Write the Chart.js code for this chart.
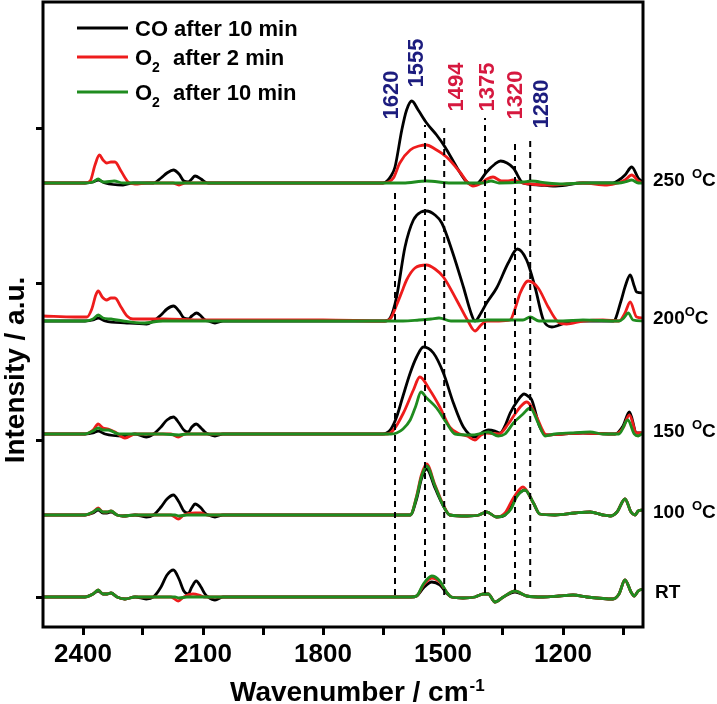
<!DOCTYPE html>
<html>
<head>
<meta charset="utf-8">
<script src="https://cdn.jsdelivr.net/npm/chart.js@4.4.1/dist/chart.umd.min.js"></script>
<style>
  html, body { margin: 0; padding: 0; background: #fff; }
</style>
</head>
<body>
<canvas id="chart" width="717" height="704"></canvas>
<script>
// temperature groups, bottom to top, with their vertical offsets (a.u.)
const temps = ['RT', '100 ', '150 ', '200', '250 '];
const offsets = [0, 82, 163, 276, 414];

const seriesNames = ['CO after 10 min', 'O2  after 2 min', 'O2  after 10 min'];
const seriesColors = ['#000000', '#ee1c1c', '#1f8c1f'];

// x axis ticks (cm-1)
const xMajor = [2400, 2100, 1800, 1500, 1200];
const xMinor = [2250, 1950, 1650, 1350, 1050];
const yTicks = [0, 157, 314, 469];

// band markers: label, drawn position, dashed extent (low, high)
const bandText = ['1620', '1555', '1494', '1375', '1320', '1280'];
const bandPos = [1620, 1545, 1497, 1395, 1320, 1282];
const bandLow = [2, 19, 2, 4, 7, 10];
const bandHigh = [404, 472, 469, 479, 457, 457];
const bandColor = ['#1c1c7e', '#1c1c7e', '#d6183f', '#d6183f', '#d6183f', '#1c1c7e'];

// spectra: [wavenumber, intensity above baseline]
const coRT = [[2500,0],[2395,0],[2375,3],[2362,6],[2350,3],[2340,3],[2330,4],[2315,0],[2295,-2],[2270,0],[2242,-2],[2224,0],[2205,10],[2190,22],[2174,27],[2160,18],[2148,6],[2137,3],[2128,10],[2117,16],[2105,10],[2095,3],[2087,0],[2070,-3],[2050,0],
  [1580,0],[1566,1],[1549,9],[1528,15],[1508,12],[1491,4],[1479,0],[1450,-1],[1420,0],[1399,3],[1387,3],[1370,-5],[1349,0],[1320,5],[1291,1],[1250,0],[1210,1],[1175,2],[1140,0],[1075,-2],[1060,3],[1045,17],[1030,5],[1022,1],[1012,6],[1000,8]];
const o2aRT = [[2500,0],[2395,0],[2375,3],[2362,7],[2350,3],[2340,3],[2330,4],[2315,0],[2295,-2],[2270,0],[2180,0],[2162,-4],[2148,0],[2125,3],[2110,2],[2095,0],
  [1580,0],[1566,1],[1549,12],[1528,19],[1508,15],[1491,5],[1479,0],[1450,-1],[1420,0],[1399,3],[1387,3],[1370,-5],[1349,0],[1320,6],[1291,1],[1250,0],[1210,1],[1175,2],[1140,0],[1075,-2],[1060,3],[1045,17],[1030,5],[1022,1],[1012,6],[1000,8]];
const o2bRT = [[2500,0],[2395,0],[2375,3],[2362,7],[2350,3],[2340,3],[2330,4],[2315,0],[2295,-2],[2270,0],[2170,0],[2160,-1],[2140,0],
  [1580,0],[1566,1],[1549,13],[1528,21],[1508,16],[1491,5],[1479,0],[1450,-1],[1420,0],[1399,3],[1387,3],[1370,-5],[1349,0],[1320,6],[1291,1],[1250,0],[1210,1],[1175,2],[1140,0],[1075,-2],[1060,3],[1045,17],[1030,5],[1022,1],[1012,6],[1000,8]];

const co100 = [[2500,0],[2395,0],[2375,2],[2362,5],[2350,2],[2340,2],[2330,3],[2315,0],[2300,-1],[2270,0],[2242,-2],[2224,0],[2205,8],[2190,16],[2174,20],[2160,13],[2148,4],[2137,2],[2128,7],[2120,11],[2105,7],[2095,2],[2087,0],[2070,-2],[2050,0],
  [1600,0],[1582,0],[1566,16],[1554,36],[1541,46],[1520,27],[1499,9],[1483,0],[1440,-1],[1410,0],[1391,3],[1366,-2],[1345,0],[1337,5],[1316,19],[1295,25],[1274,12],[1258,1],[1220,0],[1170,2],[1132,3],[1100,0],[1082,-1],[1065,3],[1045,16],[1030,3],[1020,0],[1012,4],[1000,5]];
const o2a100 = [[2500,0],[2395,0],[2375,3],[2362,7],[2350,3],[2340,3],[2330,4],[2315,0],[2300,-1],[2270,0],[2180,0],[2162,-4],[2148,0],[2120,2],[2105,2],[2090,0],
  [1600,0],[1582,0],[1566,19],[1554,40],[1541,51],[1520,30],[1499,10],[1483,0],[1440,-1],[1410,0],[1391,3],[1366,-2],[1345,2],[1324,17],[1300,28],[1274,12],[1258,1],[1220,0],[1170,2],[1132,3],[1100,0],[1082,-1],[1065,3],[1045,16],[1030,3],[1020,0],[1012,4],[1000,5]];
const o2b100 = [[2500,0],[2395,0],[2375,3],[2362,6],[2350,3],[2340,3],[2330,4],[2315,0],[2300,-1],[2270,0],[2170,0],[2160,-1],[2140,0],
  [1600,0],[1582,0],[1566,18],[1554,38],[1541,49],[1520,29],[1499,9],[1483,0],[1440,-1],[1410,0],[1391,3],[1366,-2],[1345,0],[1330,6],[1316,18],[1295,25],[1274,12],[1258,1],[1220,0],[1170,2],[1132,3],[1100,0],[1082,-1],[1065,3],[1045,16],[1030,3],[1020,0],[1012,4],[1000,5]];

const co150 = [[2500,0],[2395,0],[2375,1],[2362,3],[2345,0],[2300,-2],[2270,0],[2242,-3],[2224,0],[2205,7],[2190,14],[2174,17],[2160,11],[2148,4],[2137,2],[2128,7],[2117,10],[2105,6],[2095,2],[2087,0],[2070,-2],[2050,0],
  [1650,0],[1641,1],[1630,5],[1616,17],[1600,38],[1582,61],[1566,77],[1549,87],[1524,81],[1499,61],[1474,31],[1449,7],[1420,-3],[1400,2],[1387,4],[1370,3],[1357,1],[1345,8],[1332,21],[1314,33],[1297,40],[1285,37],[1278,34],[1258,7],[1241,-1],[1200,0],[1150,1],[1070,0],[1050,8],[1034,22],[1016,1],[1000,1]];
const o2a150 = [[2500,0],[2395,0],[2375,4],[2362,10],[2350,6],[2337,5],[2320,2],[2295,-4],[2270,0],[2180,0],[2162,-3],[2145,0],
  [1640,0],[1624,4],[1599,21],[1574,44],[1558,57],[1533,44],[1508,27],[1483,7],[1458,0],[1440,-2],[1420,-6],[1405,-1],[1391,1],[1360,0],[1337,10],[1320,20],[1307,27],[1291,32],[1266,17],[1250,3],[1241,-1],[1200,0],[1150,1],[1070,0],[1050,6],[1034,19],[1016,1],[1000,1]];
const o2b150 = [[2500,0],[2395,0],[2375,3],[2362,6],[2350,4],[2337,4],[2310,0],[2200,0],[2160,-1],[2140,0],
  [1630,0],[1616,1],[1600,5],[1582,14],[1568,28],[1555,42],[1541,36],[1516,26],[1491,11],[1470,0],[1430,-1],[1400,1],[1387,2],[1362,-2],[1345,0],[1324,11],[1300,20],[1282,26],[1262,11],[1245,-2],[1220,0],[1180,1],[1132,2],[1100,0],[1060,0],[1038,14],[1022,0],[1012,-2],[1000,1]];

const co200 = [[2500,0],[2395,0],[2375,1],[2362,3],[2345,0],[2290,-2],[2241,-3],[2224,0],[2205,6],[2190,12],[2174,15],[2160,10],[2148,3],[2137,2],[2128,5],[2116,8],[2105,5],[2095,1],[2087,0],[2070,-2],[2050,0],
  [1645,0],[1632,3],[1616,24],[1595,74],[1574,101],[1555,109],[1541,110],[1520,106],[1503,98],[1478,71],[1449,34],[1430,8],[1420,0],[1405,8],[1391,18],[1366,33],[1337,58],[1314,72],[1291,61],[1270,34],[1249,1],[1228,-6],[1208,-4],[1175,0],[1074,0],[1055,20],[1045,34],[1032,46],[1022,35],[1016,29],[1000,28]];
const o2a200 = [[2500,5],[2420,4],[2390,4],[2378,12],[2368,26],[2362,30],[2352,24],[2341,21],[2330,23],[2320,23],[2305,14],[2290,5],[2275,2],[2200,2],[2100,1],[1800,1],
  [1645,0],[1630,3],[1616,16],[1600,32],[1591,41],[1570,53],[1541,56],[1520,52],[1499,44],[1466,21],[1439,1],[1420,-10],[1405,-4],[1391,0],[1360,0],[1332,1],[1320,12],[1307,28],[1287,40],[1262,33],[1237,14],[1212,-1],[1191,-3],[1150,0],[1100,1],[1060,0],[1045,8],[1032,19],[1016,4],[1000,3]];
const o2b200 = [[2500,0],[2395,0],[2375,2],[2362,6],[2350,3],[2330,2],[2300,0],[2250,-2],[2200,0],
  [1600,0],[1560,1],[1530,2],[1510,3],[1480,0],[1420,0],[1390,1],[1300,1],[1282,4],[1260,0],[1200,0],[1150,1],[1060,0],[1048,3],[1037,8],[1025,1],[1000,0]];

const co250 = [[2500,0],[2395,0],[2375,1],[2362,3],[2345,0],[2300,-2],[2275,0],[2224,0],[2205,5],[2190,10],[2174,13],[2160,9],[2148,2],[2137,1],[2128,4],[2120,7],[2105,4],[2095,1],[2087,0],
  [1650,0],[1640,2],[1630,7],[1620,16],[1603,53],[1591,73],[1578,82],[1562,73],[1541,60],[1516,48],[1495,36],[1466,16],[1445,3],[1437,0],[1425,-2],[1412,0],[1391,11],[1370,19],[1356,22],[1340,20],[1324,15],[1300,0],[1260,-2],[1225,-3],[1191,-2],[1158,0],[1075,0],[1060,3],[1045,8],[1028,16],[1012,5],[1000,1]];
const o2a250 = [[2500,0],[2395,0],[2382,2],[2370,18],[2359,28],[2350,23],[2341,20],[2330,21],[2320,21],[2305,12],[2287,1],[2270,-1],[2240,0],[2175,0],[2160,-2],[2145,0],
  [1650,0],[1637,1],[1624,5],[1608,20],[1582,33],[1560,37],[1541,38],[1520,34],[1491,26],[1458,11],[1437,0],[1425,-3],[1404,0],[1390,4],[1375,6],[1354,2],[1340,2],[1325,3],[1300,0],[1225,-2],[1190,-1],[1150,0],[1090,-2],[1062,0],[1045,3],[1028,8],[1012,2],[1000,0]];
const o2b250 = [[2500,0],[2395,0],[2375,1],[2362,4],[2350,1],[2345,1],[2322,2],[2300,0],[2200,0],
  [1600,0],[1541,2],[1480,0],[1400,0],[1380,2],[1360,0],[1300,1],[1280,2],[1240,0],[1200,-1],[1150,0],[1060,0],[1045,1],[1028,3],[1012,0],[1000,0]];

const spectra = [
  [coRT, o2aRT, o2bRT],
  [co100, o2a100, o2b100],
  [co150, o2a150, o2b150],
  [co200, o2a200, o2b200],
  [co250, o2a250, o2b250]
];

const FONT = '"Liberation Sans", Arial, sans-serif';

// build datasets
const datasets = [];
spectra.forEach((group, i) => {
  group.forEach((pts, s) => {
    datasets.push({
      label: seriesNames[s] + ' ' + temps[i],
      data: pts.map(p => ({ x: p[0], y: offsets[i] + p[1] })),
      borderColor: seriesColors[s],
      borderWidth: 2.8,
      pointRadius: 0,
      cubicInterpolationMode: 'monotone',
      order: 3 - s
    });
  });
});
bandPos.forEach((p, i) => {
  datasets.push({
    label: bandText[i],
    data: [{ x: p, y: bandLow[i] }, { x: p, y: bandHigh[i] }],
    borderColor: '#000',
    borderWidth: 2,
    borderDash: [6, 5],
    pointRadius: 0,
    order: 0
  });
});

// text, frame, legend
const annotate = {
  id: 'annotate',
  afterDraw(chart) {
    const { ctx, chartArea: a, scales: { x, y } } = chart;
    ctx.save();
    ctx.strokeStyle = '#000';
    ctx.lineWidth = 3;
    ctx.strokeRect(a.left, a.top, a.right - a.left, a.bottom - a.top);

    // band labels
    ctx.font = 'bold 22px ' + FONT;
    ctx.textAlign = 'center';
    ctx.textBaseline = 'middle';
    const labelX = [1628, 1565, 1465, 1388, 1318, 1253];
    const labelY = [502, 534, 510, 510, 502, 493];
    bandText.forEach((t, i) => {
      ctx.save();
      ctx.translate(x.getPixelForValue(labelX[i]), y.getPixelForValue(labelY[i]));
      ctx.rotate(-Math.PI / 2);
      ctx.fillStyle = bandColor[i];
      ctx.fillText(t, 0, 0);
      ctx.restore();
    });

    // temperature labels
    ctx.fillStyle = '#000';
    ctx.textAlign = 'left';
    temps.forEach((t, i) => {
      const py = y.getPixelForValue(offsets[i]) - (i === 0 ? 4 : 2);
      let px = a.right + (i === 0 ? 12 : 10);
      ctx.font = 'bold 19px ' + FONT;
      ctx.fillText(t, px, py);
      if (t === 'RT') return;
      px += ctx.measureText(t).width + (t.endsWith(' ') ? 2 : 0);
      ctx.font = 'bold 13px ' + FONT;
      ctx.fillText('O', px, py - 7);
      px += ctx.measureText('O').width;
      ctx.font = 'bold 19px ' + FONT;
      ctx.fillText('C', px, py);
    });

    // legend
    ctx.textBaseline = 'alphabetic';
    const rows = [36, 65, 100];
    rows.forEach((by, s) => {
      ctx.strokeStyle = seriesColors[s];
      ctx.lineWidth = 3;
      ctx.beginPath();
      ctx.moveTo(77, by - 8);
      ctx.lineTo(128, by - 8);
      ctx.stroke();
      ctx.fillStyle = '#000';
      ctx.font = 'bold 22px ' + FONT;
      const name = seriesNames[s];
      if (name.startsWith('O2')) {
        ctx.fillText('O', 135, by);
        ctx.font = 'bold 14px ' + FONT;
        ctx.fillText('2', 152, by + 7);
        ctx.font = 'bold 22px ' + FONT;
        ctx.fillText(name.slice(2).trim(), 173, by);
      } else {
        ctx.fillText(name, 135, by);
      }
    });

    // axis titles
    ctx.font = 'bold 28px ' + FONT;
    ctx.fillText('Wavenumber / cm', 230, 701);
    const w = ctx.measureText('Wavenumber / cm').width;
    ctx.font = 'bold 17px ' + FONT;
    ctx.fillText('-1', 230 + w + 1, 691);

    ctx.save();
    ctx.translate(24, 370);
    ctx.rotate(-Math.PI / 2);
    ctx.font = 'bold 28px ' + FONT;
    ctx.textAlign = 'center';
    ctx.fillText('Intensity / a.u.', 0, 0);
    ctx.restore();

    ctx.restore();
  }
};

new Chart(document.getElementById('chart').getContext('2d'), {
  type: 'line',
  data: { datasets: datasets },
  options: {
    responsive: false,
    animation: false,
    devicePixelRatio: 1,
    layout: { padding: { top: 2, right: 74, left: 0, bottom: 0 } },
    plugins: { legend: { display: false }, tooltip: { enabled: false } },
    scales: {
      x: {
        type: 'linear',
        reverse: true,
        min: 1000,
        max: 2500,
        afterBuildTicks: s => { s.ticks = xMajor.concat(xMinor).sort((p, q) => p - q).map(v => ({ value: v })); },
        afterFit: s => { s.height = 77; },
        border: { display: false },
        grid: { drawOnChartArea: false, drawTicks: true, tickLength: 8, tickWidth: 3, tickColor: '#000' },
        ticks: {
          autoSkip: false,
          maxRotation: 0,
          padding: 4,
          color: '#000',
          font: { family: FONT, size: 26, weight: 'bold' },
          callback: v => xMajor.includes(v) ? String(v) : ''
        }
      },
      y: {
        type: 'linear',
        min: -30,
        max: 595,
        afterBuildTicks: s => { s.ticks = yTicks.map(v => ({ value: v })); },
        afterFit: s => { s.width = 43; },
        border: { display: false },
        grid: { drawOnChartArea: false, drawTicks: true, tickLength: 7, tickWidth: 3, tickColor: '#000' },
        ticks: { display: false }
      }
    }
  },
  plugins: [annotate]
});
</script>
</body>
</html>
